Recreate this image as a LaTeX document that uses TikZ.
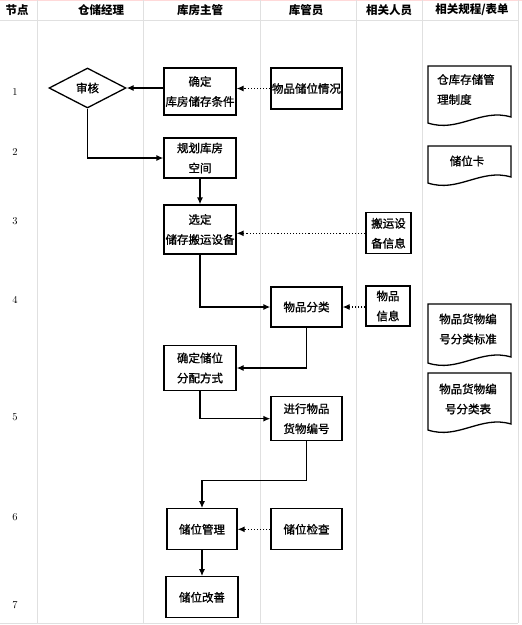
\documentclass[tikz,border=0pt]{standalone}
\usepackage{fontspec}
\newfontfamily\cjk[FakeBold=1.2]{Noto Sans CJK SC}
\newfontfamily\cjkhead{Noto Sans CJK SC}
\usetikzlibrary{arrows.meta,shapes.geometric}
\newcommand\drawdoc[4]{% left, right, top, bottom-left
  \draw[docline] (#1,#3) -- (#2,#3) -- (#2,#4-6) .. controls (#2-30,#4-15) and (#1+30,#4+10) .. (#1,#4) -- cycle;}
\begin{document}
\begin{tikzpicture}[x=1pt,y=-1pt,
  font=\cjk\fontsize{11.5}{20}\selectfont,
  grid/.style={draw=black!12,line width=0.8pt},
  box/.style={draw,line width=1.3pt,align=center,inner sep=0pt},
  docline/.style={draw,line width=1.3pt},
  flow/.style={line width=1.3pt,-{Latex[length=7pt,width=6pt]}},
  info/.style={line width=1.1pt,dotted,-{Latex[length=7pt,width=6pt]}},
  hdr/.style={font=\cjkhead\bfseries\fontsize{11.5}{13}\selectfont},
  num/.style={font=\fontsize{10.5}{12}\selectfont},
  doctext/.style={align=center,inner sep=0pt}]
\useasboundingbox (0,0) rectangle (522,625);
% grid
\draw[draw=red!15,line width=1pt] (0,0.5) -- (522,0.5);
\foreach \x in {37,143,260,356,422,518} \draw[grid] (\x,0) -- (\x,623);
\draw[grid] (0,20) -- (518,20);
\draw[grid] (0,623) -- (518,623);
% headers
\node[hdr] (h0) at (17,10) {节点};
\node[hdr] (h1) at (101,10) {仓储经理};
\node[hdr] (h2) at (200,10) {库房主管};
\node[hdr] (h3) at (306,10) {库管员};
\node[hdr] (h4) at (389,10) {相关人员};
\node[hdr] (h5) at (472,10) {相关规程/表单};
% step numbers
\node[num] (n1) at (15,92) {1};
\node[num] (n2) at (15,152) {2};
\node[num] (n3) at (15,221) {3};
\node[num] (n4) at (15,300) {4};
\node[num] (n5) at (15,417) {5};
\node[num] (n6) at (15,517) {6};
\node[num] (n7) at (15,605) {7};
% decision
\node[diamond,draw,line width=1.3pt,inner sep=0pt,minimum width=77pt,minimum height=40pt] (dia) at (87.5,88) {审核};
% boxes
\node[box,minimum width=72pt,minimum height=47pt] (b1) at (200,91.5) {确定\\库房储存条件};
\node[box,minimum width=72pt,minimum height=40pt] (b2) at (200,158) {规划库房\\空间};
\node[box,minimum width=72pt,minimum height=49pt] (b3) at (200,229.5) {选定\\储存搬运设备};
\node[box,minimum width=72pt,minimum height=45pt] (b4) at (200,368) {确定储位\\分配方式};
\node[box,minimum width=70pt,minimum height=41pt] (b5) at (202,529.3) {储位管理};
\node[box,minimum width=72pt,minimum height=41pt] (b6) at (202,597.3) {储位改善};
\node[box,minimum width=71pt,minimum height=41pt] (c1) at (306.5,88.5) {物品储位情况};
\node[box,minimum width=71pt,minimum height=40pt] (c2) at (306.5,307) {物品分类};
\node[box,minimum width=71pt,minimum height=44pt] (c3) at (306.5,418.7) {进行物品\\货物编号};
\node[box,minimum width=71pt,minimum height=41pt] (c4) at (306.5,529.3) {储位检查};
\node[box,minimum width=45pt,minimum height=41pt] (d1) at (388.5,233.3) {搬运设\\备信息};
\node[box,minimum width=44pt,minimum height=40pt] (d2) at (388,306) {物品\\信息};
% documents
\drawdoc{428}{511}{66}{123}
\node[align=left,anchor=north west,inner sep=0pt] (t1) at (437,74) {仓库存储管\\理制度};
\drawdoc{428}{511}{146}{183}
\node[doctext] (t2) at (467,161) {储位卡};
\drawdoc{428}{511}{304}{363}
\node[doctext] (t3) at (468,329) {物品货物编\\号分类标准};
\drawdoc{428}{511}{373}{430}
\node[doctext] (t4) at (468,399) {物品货物编\\号分类表};
% connectors
\draw[flow] (b1.west|-dia) -- (dia.east);
\draw[info] (c1.west) -- (b1.east|-c1);
\draw[flow] (dia.south) |- (b2.west);
\draw[flow] (b2.south) -- (b3.north);
\draw[info] (d1.west) -- (b3.east|-d1);
\draw[flow] (b3.south) |- (c2.west);
\draw[info] (d2.west|-c2) -- (c2.east);
\draw[flow] (c2.south) |- (b4.east);
\draw[flow] (b4.south) |- (c3.west);
\coordinate (k) at (306.5,480.7);
\draw[flow] (c3.south) -- (k) -| (b5.north);
\draw[info] (c4.west) -- (b5.east);
\draw[flow] (b5.south) -- (b6.north);
\end{tikzpicture}
\end{document}
